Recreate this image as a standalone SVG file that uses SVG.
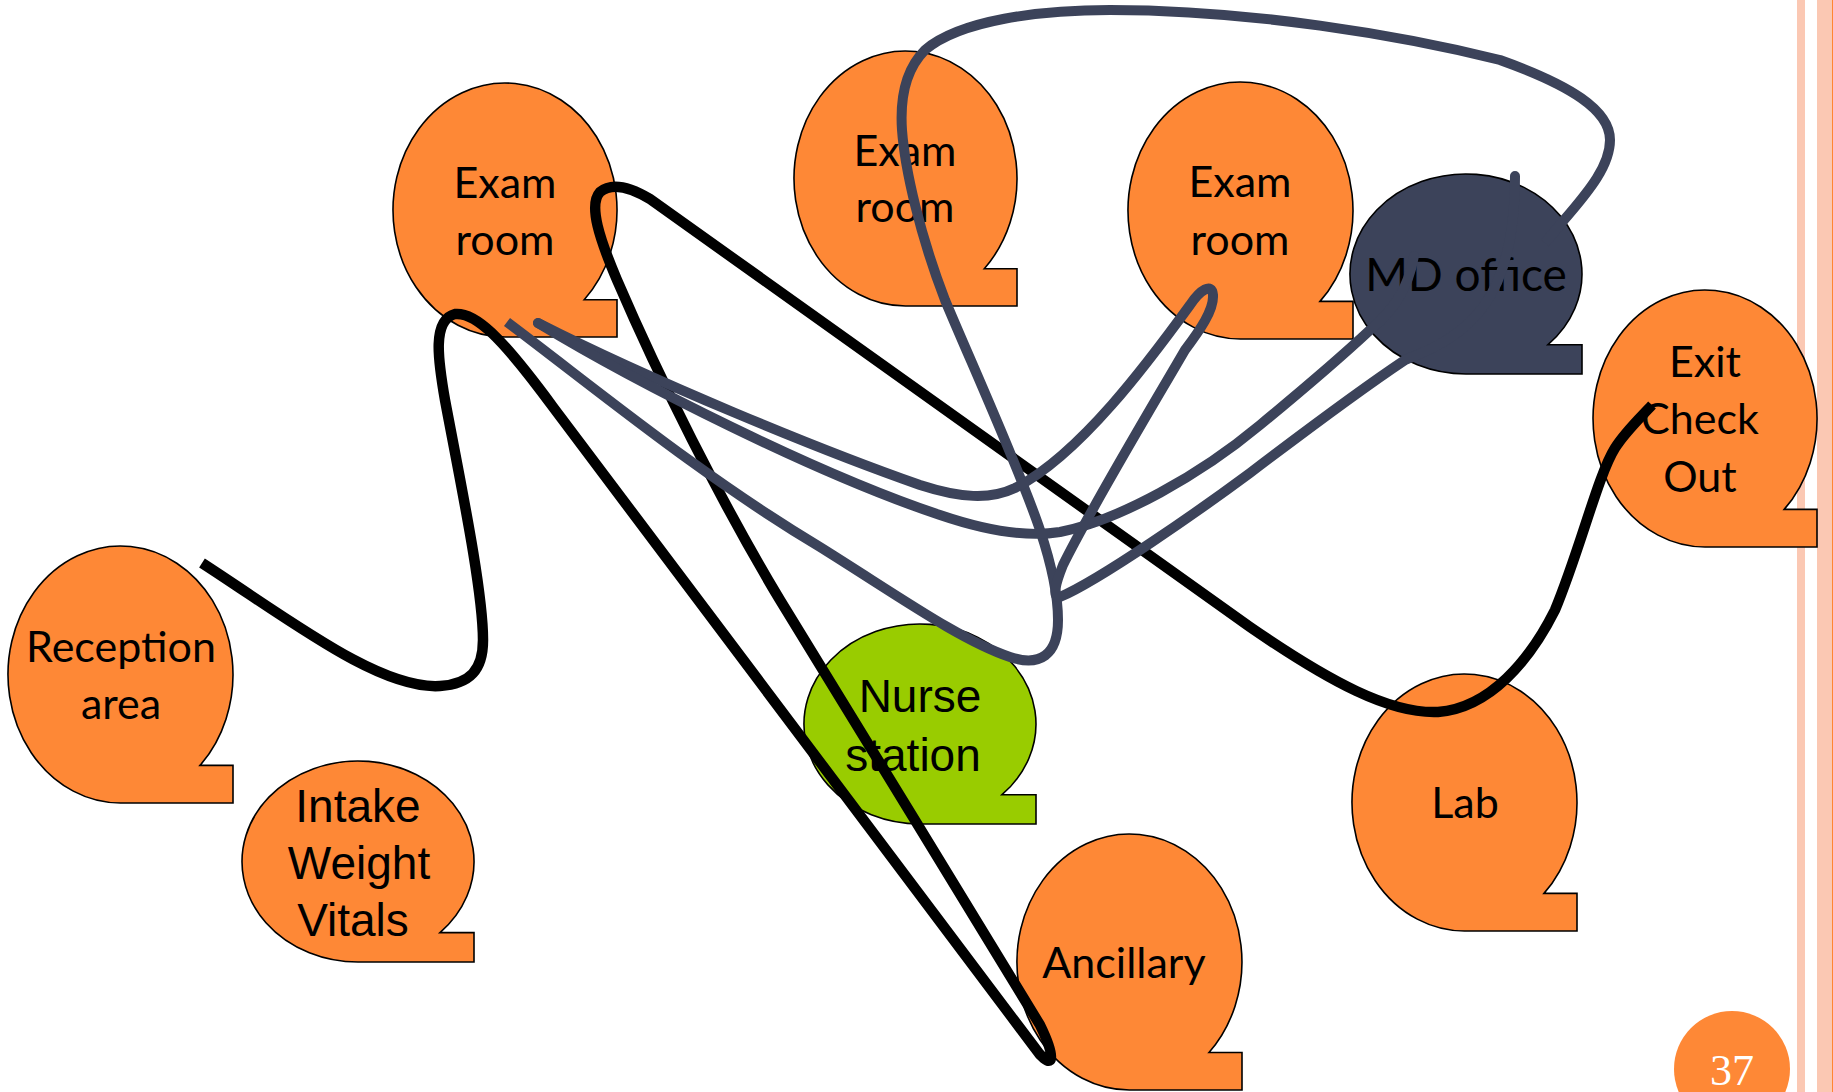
<svg xmlns="http://www.w3.org/2000/svg" width="1833" height="1092" viewBox="0 0 1833 1092">
<style>
.node{fill:#FE8836;stroke:#000;stroke-width:1.6}
.green{fill:#99CC00}
.md{fill:#3C435A}
.t{font-family:Lato,"Open Sans",sans-serif;font-size:43px;fill:#000;text-anchor:middle}
.a{font-family:"Liberation Sans",Arial,sans-serif;font-size:46px;fill:#000;text-anchor:middle}
.blk{fill:none;stroke:#000;stroke-width:10.5;stroke-linejoin:round}
.sl{fill:none;stroke:#3C435A;stroke-width:10;stroke-linejoin:round}
</style>
<rect width="1833" height="1092" fill="#fff"/>
<g id="border">
<rect x="1797" y="0" width="8" height="1092" fill="#FBC8B3"/>
<rect x="1817" y="0" width="15" height="1092" fill="#FBC8B3"/>
<rect x="1832" y="0" width="1" height="1092" fill="#FF8533"/>
</g>
<g id="exam1"><path class="node" d="M505,337 A112,127 0 1 1 584.2,299.8 L617,299.8 L617,337 Z"/><text class="t" x="505" y="198">Exam</text><text class="t" x="505" y="255">room</text></g>
<g id="exam2"><path class="node" d="M905.5,306 A111.5,127.5 0 1 1 984.3,268.7 L1017,268.7 L1017,306 Z"/><text class="t" x="905" y="166">Exam</text><text class="t" x="905" y="222">room</text></g>
<g id="exam3"><path class="node" d="M1240.5,339 A112.5,128.5 0 1 1 1320,301.4 L1353,301.4 L1353,339 Z"/><text class="t" x="1240" y="197">Exam</text><text class="t" x="1240" y="255">room</text></g>
<g id="mdoffice"><path class="node md" d="M1466,374 A116,100 0 1 1 1548,344.7 L1582,344.7 L1582,374 Z"/><text class="t" x="1466" y="291" style="font-size:46px">MD office</text></g>
<g id="exit"><path class="node" d="M1705,547 A112,128.5 0 1 1 1784.2,509.4 L1817,509.4 L1817,547 Z"/><text class="t" x="1705" y="377">Exit</text><text class="t" x="1700" y="434">Check</text><text class="t" x="1700" y="492">Out</text></g>
<g id="reception"><path class="node" d="M120.5,803 A112.5,128.5 0 1 1 200,765.4 L233,765.4 L233,803 Z"/><text class="t" x="121" y="662">Reception</text><text class="t" x="121" y="719">area</text></g>
<g id="intake"><path class="node" d="M358,962 A116,100.5 0 1 1 440,932.6 L474,932.6 L474,962 Z"/><text class="a" x="358" y="822">Intake</text><text class="a" x="359" y="879">Weight</text><text class="a" x="353" y="936">Vitals</text></g>
<g id="nurse"><path class="node green" d="M920,824 A116,100 0 1 1 1002,794.7 L1036,794.7 L1036,824 Z"/><text class="a" x="920" y="712">Nurse</text><text class="a" x="913" y="771">station</text></g>
<g id="ancillary"><path class="node" d="M1129.5,1090 A112.5,128 0 1 1 1209,1052.5 L1242,1052.5 L1242,1090 Z"/><text class="t" x="1124" y="978">Ancillary</text></g>
<g id="lab"><path class="node" d="M1464.5,931 A112.5,128.5 0 1 1 1544,893.4 L1577,893.4 L1577,931 Z"/><text class="t" x="1465" y="818">Lab</text></g>
<g id="connectors">
<path class="blk" d="M202,563 C290,620 380,690 440,686 C470,684 483,670 483,640 C483,590 460,480 445,400 C438,360 432,320 455,314 C475,312 500,335 553,407 L1035,1048 C1047,1066 1062,1070 1040,1025 L913,817 L780,600 C720,500 660,380 617,280 C600,240 588,205 600,192 C612,182 630,187 650,199 L1250,627 C1330,682 1390,714 1438,712 C1490,708 1530,660 1555,610 C1580,550 1598,475 1615,448 C1625,432 1640,418 1652,405"/>
<path class="sl" d="M507,322 C600,392 700,475 820,547 C900,597 960,640 1010,657 C1040,667 1058,655 1058,620 C1058,590 1050,560 1040,530 C1020,470 970,360 945,300 C920,235 905,170 902,130 C900,100 905,70 925,50 C960,20 1040,10 1110,10 C1250,10 1400,35 1500,60 C1570,85 1610,110 1610,140 C1610,165 1590,190 1564,220 L1545,243"/>
<path class="sl" style="stroke-linecap:round" d="M538,323 C650,380 820,450 920,485 C960,498 990,500 1015,488 C1080,455 1150,360 1190,305 C1200,290 1212,282 1213,295 C1214,310 1200,330 1185,350 C1150,410 1090,510 1063,565 C1055,585 1052,598 1060,597 C1100,580 1200,510 1250,473 C1300,435 1360,390 1405,360 C1470,335 1515,300 1515,176"/>
<path class="sl" style="stroke-linecap:round" d="M538,323 C640,385 820,475 940,515 C990,532 1030,537 1060,532 C1120,520 1200,475 1260,425 C1300,392 1340,358 1370,330 C1392,312 1408,290 1414,256"/>
</g>
<g id="page"><circle cx="1732" cy="1069" r="58" fill="#FE8836"/><text x="1732" y="1085" font-family="'Liberation Serif','DejaVu Serif',serif" font-size="44" fill="#fff" text-anchor="middle">37</text></g>
</svg>
